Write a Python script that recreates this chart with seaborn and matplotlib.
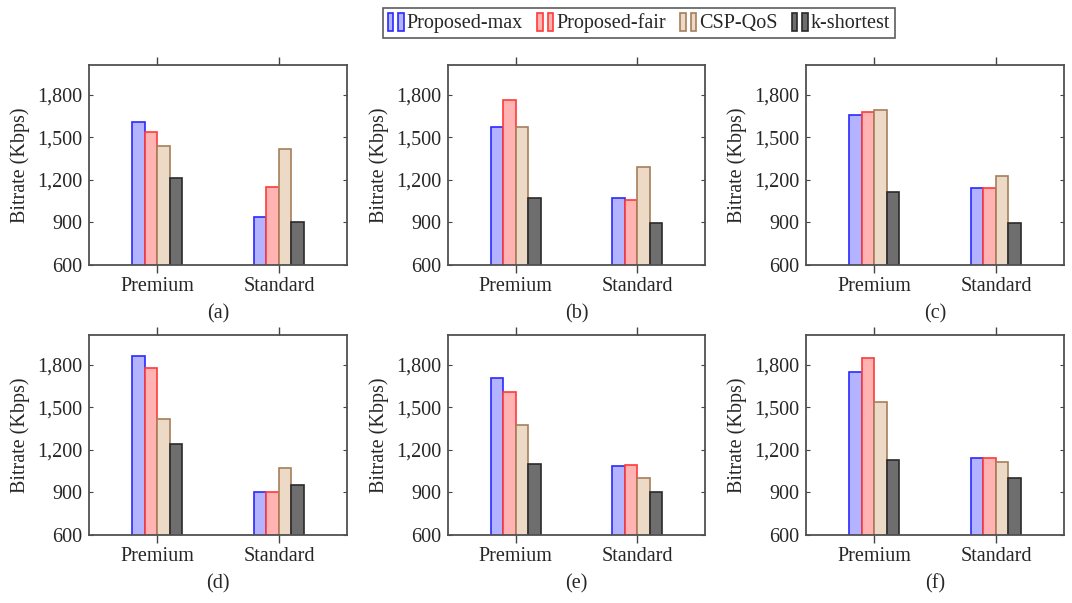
"""
Bitrate per user tier for the four path selection schemes, panels (a)-(f)
"""

import pandas as pd
import matplotlib.pyplot as plt
import seaborn as sns
from matplotlib.patches import Patch
from matplotlib.legend_handler import HandlerTuple
from matplotlib.ticker import FuncFormatter

tiers = ['Premium', 'Standard']
methods = ['Proposed-max', 'Proposed-fair', 'CSP-QoS', 'k-shortest']
panels = ['(a)', '(b)', '(c)', '(d)', '(e)', '(f)']

# bitrate in Kbps, [premium, standard] for each method
proposed_max = [[1610, 940], [1575, 1073], [1655, 1145],
                [1865, 900], [1705, 1085], [1750, 1145]]
proposed_fair = [[1535, 1152], [1765, 1058], [1677, 1145],
                 [1780, 904], [1607, 1095], [1845, 1145]]
csp_qos = [[1440, 1420], [1572, 1290], [1690, 1225],
           [1420, 1075], [1378, 1002], [1540, 1112]]
k_shortest = [[1212, 900], [1073, 897], [1112, 897],
              [1240, 953], [1102, 900], [1130, 1000]]

y_ticks = [600, 900, 1200, 1500, 1800]

fills = ['#b3b3ff', '#ffb3b3', '#ecd9c6', '#6e6e6e']
edges = ['#2a2aff', '#ff3a3a', '#a57f5a', '#2a2a2a']

sns.set_style("white")
plt.rcParams['font.family'] = 'serif'
plt.rcParams['font.serif'] = ['Liberation Serif', 'DejaVu Serif']
plt.rcParams['mathtext.fontset'] = 'stix'

fig = plt.figure(figsize=(10.72, 6.03), dpi=100)

# axes boxes in pixels: left, right for columns and top, bottom for rows
cols = [(89, 347), (448, 705), (806, 1064)]
rows = [(65, 265), (335, 535)]
W, H = 1072., 603.

series = [proposed_max, proposed_fair, csp_qos, k_shortest]
for k, name in enumerate(panels):
    r, c = divmod(k, 3)
    x0, x1 = cols[c]
    y0, y1 = rows[r]
    ax = fig.add_axes([x0 / W, 1 - y1 / H, (x1 - x0) / W, (y1 - y0) / H])

    recs = []
    for m, vals in zip(methods, series):
        for t, v in zip(tiers, vals[k]):
            recs.append({'tier': t, 'method': m, 'bitrate': v})
    df = pd.DataFrame(recs)

    sns.barplot(data=df, x='tier', y='bitrate', hue='method', order=tiers,
                hue_order=methods, palette=fills, width=0.41, gap=0,
                saturation=1, linewidth=1.2, legend=False, ax=ax)
    for cont, ec in zip(ax.containers, edges):
        for bar in cont:
            bar.set_edgecolor(ec)

    ax.set_xlim(-0.559, 1.559)
    ax.set_ylim(600, 2010)
    ax.set_yticks(y_ticks)
    ax.yaxis.set_major_formatter(FuncFormatter(lambda v, p: f'{v:,.0f}'))
    ax.set_ylabel('Bitrate (Kbps)', fontsize=14.5, labelpad=5)
    ax.set_xlabel(name, fontsize=14.5, labelpad=6)

    ax.tick_params(axis='x', which='both', direction='out', length=5.5,
                   width=1.0, color='#444444', top=True, bottom=True,
                   labelsize=14.5, pad=3)
    ax.tick_params(axis='y', which='both', direction='in', length=3,
                   width=0.8, color='#444444', left=True, right=True,
                   labelsize=14.5, pad=5)
    for sp in ax.spines.values():
        sp.set_color('#505050')
        sp.set_linewidth(1.3)

# legend icons: two small bars per entry, like the pgfplots ybar legend
handles = [(Patch(facecolor=f, edgecolor=e, linewidth=1.2),
            Patch(facecolor=f, edgecolor=e, linewidth=1.2))
           for f, e in zip(fills, edges)]
leg = fig.legend(handles=handles, labels=methods, loc='center',
                 bbox_to_anchor=(639 / W, 1 - 23 / H),
                 handler_map={tuple: HandlerTuple(ndivide=None, pad=0.25)},
                 ncol=4, fontsize=14.5, frameon=True, fancybox=False,
                 handlelength=0.8, handleheight=1.0, handletextpad=0.15,
                 columnspacing=0.7, borderpad=0.25, borderaxespad=0)
leg.get_frame().set_edgecolor('#333333')
leg.get_frame().set_linewidth(1.2)

plt.savefig('out.png', dpi=100)
plt.close()
